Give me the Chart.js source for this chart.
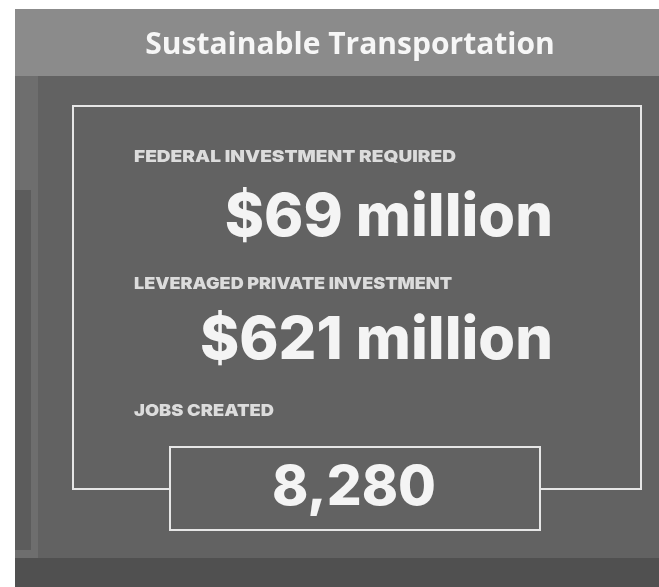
<!DOCTYPE html>
<html>
<head>
<meta charset="utf-8">
<script src="https://cdn.jsdelivr.net/npm/chart.js@4.4.1/dist/chart.umd.min.js"></script>
<style>
  html, body { margin: 0; padding: 0; background: #fff; }
  #wrap { width: 659px; height: 587px; }
</style>
</head>
<body>
<div id="wrap"><canvas id="myChart" width="659" height="587"></canvas></div>
<script>
var title = 'Sustainable Transportation';
var metrics = ['FEDERAL INVESTMENT REQUIRED', 'LEVERAGED PRIVATE INVESTMENT', 'JOBS CREATED'];
var values = [69, 621, 8280];
var prefixes = ['$', '$', ''];
var suffixes = [' million', ' million', ''];

function fitFont(ctx, text, weight, family, targetW) {
	ctx.font = weight + ' 100px ' + family;
	var w = ctx.measureText(text).width;
	return weight + ' ' + (100 * targetW / w).toFixed(1) + 'px ' + family;
}

// fixed height, squeezed/stretched to the wanted width
function stretchText(ctx, text, x, y, targetW) {
	var w = ctx.measureText(text).width;
	ctx.save();
	ctx.translate(x, y);
	ctx.scale(targetW / w, 1);
	ctx.fillText(text, 0, 0);
	ctx.restore();
}

// backdrop + frame + numbers, drawn around the (invisible) bar chart
const infographic = {
	id: 'infographic',
	beforeDraw: function(chart) {
		const ctx = chart.ctx;
		ctx.save();
		ctx.fillStyle = '#ffffff';
		ctx.fillRect(0, 0, chart.width, chart.height);
		ctx.fillStyle = '#8b8b8b';
		ctx.fillRect(15, 9, chart.width - 15, chart.height - 9);
		ctx.fillStyle = '#6e6e6e';
		ctx.fillRect(15, 76, 23, chart.height - 76);
		ctx.fillStyle = '#5c5c5c';
		ctx.fillRect(15, 190, 16, 360);
		ctx.fillStyle = '#626262';
		ctx.fillRect(38, 76, chart.width - 38, 482);
		ctx.fillStyle = '#505050';
		ctx.fillRect(15, 558, chart.width - 15, chart.height - 558);
		ctx.restore();
	},
	afterDraw: function(chart) {
		const ctx = chart.ctx;
		const y = chart.scales.y;
		ctx.save();
		// outer frame, broken by the jobs box
		ctx.strokeStyle = '#e6e6e6';
		ctx.lineWidth = 2;
		ctx.beginPath();
		ctx.moveTo(170, 489);
		ctx.lineTo(73, 489);
		ctx.lineTo(73, 106);
		ctx.lineTo(641, 106);
		ctx.lineTo(641, 489);
		ctx.lineTo(540, 489);
		ctx.stroke();
		ctx.strokeRect(170, 447, 370, 83);

		const valueOffset = [63, 59, 80];
		ctx.textBaseline = 'middle';
		metrics.forEach(function(m, i) {
			const py = y.getPixelForValue(i);
			ctx.fillStyle = '#dcdcdc';
			ctx.textAlign = 'left';
			ctx.font = '900 16.5px Inter';
			stretchText(ctx, m, 134, py + 2, [322, 318, 140][i]);

			const txt = prefixes[i] + values[i].toLocaleString('en-US') + suffixes[i];
			ctx.fillStyle = '#f4f4f4';
			ctx.font = fitFont(ctx, txt, '800', 'Inter', [328, 353, 164][i]);
			if (i < 2) {
				ctx.textAlign = 'right';
				ctx.fillText(txt, 553, py + valueOffset[i]);
			} else {
				ctx.textAlign = 'center';
				ctx.fillText(txt, 354, py + valueOffset[i]);
			}
		});
		ctx.restore();
	}
};

const ctx = document.getElementById('myChart').getContext('2d');
const myChart = new Chart(ctx, {
	type: 'bar',
	data: {
		labels: metrics,
		datasets: [{
			label: 'Sustainable Transportation',
			data: values,
			backgroundColor: 'rgba(0,0,0,0)',
			borderWidth: 0
		}]
	},
	plugins: [infographic],
	options: {
		responsive: false,
		animation: false,
		indexAxis: 'y',
		layout: { padding: { top: 10, left: 41, right: 0, bottom: 114.5 } },
		scales: {
			x: { display: false },
			y: { display: false }
		},
		plugins: {
			legend: { display: false },
			tooltip: { enabled: false },
			title: {
				display: true,
				text: title,
				color: '#f6f6f6',
				font: { family: 'Open Sans', size: 30, weight: 'bold', lineHeight: 1.2 },
				padding: { top: 17, bottom: 28.5 }
			}
		}
	}
});
</script>
</body>
</html>
